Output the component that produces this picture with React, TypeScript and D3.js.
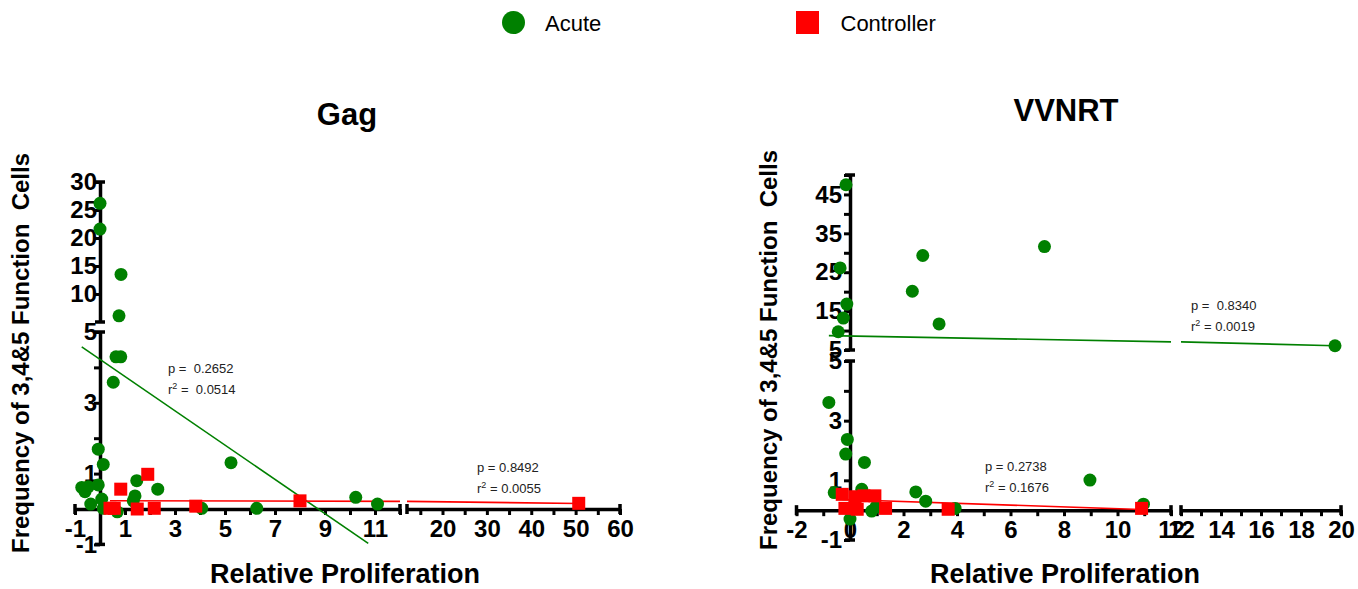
import React, { useEffect, useRef } from 'react';
import * as d3 from 'd3';

const FONT = "'Liberation Sans', Arial, sans-serif";
const ACUTE = '#008000';
const CONTROLLER = '#ff0000';

// Gag panel
const gagAcuteX = [0, 0, 0.84, 0.76, 0.64, 0.83, 0.53, -0.07, 0.13, -0.73, -0.6, -0.47, -0.07, -0.37, 0.07, 0.13, 0.69, 1.47, 1.4, 1.33, 2.31, 5.24, 4.07, 6.27, 10.23, 11.1];
const gagAcuteY = [26.2, 21.6, 13.5, 6.1, 4.3, 4.3, 3.58, 1.69, 1.26, 0.61, 0.49, 0.63, 0.68, 0.14, 0.28, 0.02, -0.08, 0.8, 0.37, 0.23, 0.56, 1.31, 0.02, 0.02, 0.33, 0.14];
const gagControllerX = [0.4, 0.57, 0.83, 1.49, 1.91, 2.17, 3.83, 8.0, 50.7];
const gagControllerY = [0.02, 0.02, 0.56, 0, 0.98, 0.02, 0.08, 0.23, 0.16];
const gagAcuteFit = [[-0.73, 4.58], [10.73, -0.97]];
const gagControllerFit = [[0.4, 0.235], [50.7, 0.155]];
const gagAcuteStats = ['p =  0.2652', ' =  0.0514'];
const gagControllerStats = ['p = 0.8492', ' = 0.0055'];

// VVNRT panel
const vvnrtAcuteX = [-0.15, -0.37, -0.12, -0.25, -0.44, 2.72, 2.33, 3.33, 7.27, 19.7, -0.79, -0.1, -0.16, 0.54, -0.59, 0.44, 0, 0.81, 0.97, 2.46, 2.83, 3.93, 8.97, 10.97];
const vvnrtAcuteY = [47.5, 26.1, 16.8, 13.2, 9.7, 29.3, 20.1, 11.7, 31.6, 6.1, 3.61, 2.37, 1.88, 1.6, 0.59, 0.7, -0.3, -0.03, 0.11, 0.61, 0.3, 0.06, 1.01, 0.2];
const vvnrtControllerX = [-0.29, -0.19, 0.19, 0.52, 0.27, 0.93, 1.33, 3.67, 10.9];
const vvnrtControllerY = [0.53, 0.06, 0.45, 0.48, 0.03, 0.48, 0.06, 0.03, 0.06];
const vvnrtAcuteFit = [[-0.79, 8.7], [19.7, 6.1]];
const vvnrtControllerFit = [[-0.29, 0.36], [10.9, 0.02]];
const vvnrtAcuteStats = ['p =  0.8340', ' = 0.0019'];
const vvnrtControllerStats = ['p = 0.2738', ' = 0.1676'];

const yTitle = 'Frequency of 3,4&5 Function  Cells';
const xTitle = 'Relative Proliferation';

const range = (a, b, step = 1) => d3.range(a, b + step / 2, step);

const panels = [
  {
    title: 'Gag', titleX: 347, titleY: 125,
    yTitleX: 29, yTitleY: 353, xTitleX: 345,
    labelPad: -3,
    xSegs: [
      { domain: [-1, 12], range: [75, 400], ticks: range(-1, 12), labels: range(-1, 11, 2) },
      { domain: [12, 60], range: [407, 620], ticks: range(15, 60, 5), labels: range(20, 60, 10) },
    ],
    ySegs: [
      { domain: [-1, 5], range: [544.4, 332], ticks: range(-1, 5), labels: [-1, 1, 3, 5] },
      { domain: [5, 30], range: [322, 182], ticks: range(10, 30, 5), labels: range(10, 30, 5) },
    ],
    acute: { x: gagAcuteX, y: gagAcuteY, fit: gagAcuteFit },
    controller: { x: gagControllerX, y: gagControllerY, fit: gagControllerFit },
    stats: [
      { text: gagAcuteStats, x: 168, y: 373 },
      { text: gagControllerStats, x: 477, y: 472 },
    ],
  },
  {
    title: 'VVNRT', titleX: 1066, titleY: 121,
    yTitleX: 777, yTitleY: 350, xTitleX: 1065,
    labelPad: 2,
    xSegs: [
      { domain: [-2, 12], range: [796.5, 1171], ticks: range(-2, 12), labels: range(-2, 12, 2) },
      { domain: [12, 20], range: [1181, 1341], ticks: range(12, 20), labels: range(12, 20, 2) },
    ],
    ySegs: [
      { domain: [-1, 5], range: [540, 361], ticks: range(-1, 5), labels: [-1, 1, 3, 5] },
      { domain: [5, 50], range: [350, 175], ticks: range(5, 50, 5), labels: range(5, 45, 10) },
    ],
    acute: { x: vvnrtAcuteX, y: vvnrtAcuteY, fit: vvnrtAcuteFit },
    controller: { x: vvnrtControllerX, y: vvnrtControllerY, fit: vvnrtControllerFit },
    stats: [
      { text: vvnrtAcuteStats, x: 1191, y: 310 },
      { text: vvnrtControllerStats, x: 985, y: 471 },
    ],
  },
];

const styleAxis = (ax) => {
  ax.select('.domain').attr('stroke', '#000').attr('stroke-width', 3.5);
  ax.selectAll('.tick line').attr('stroke', '#000').attr('stroke-width', 3);
  ax.selectAll('text')
    .attr('font-size', 24).attr('font-weight', 'bold')
    .attr('font-family', FONT).attr('fill', '#000');
};

const drawPanel = (svg, p) => {
  const g = svg.append('g');
  const xs = p.xSegs.map(s => ({ ...s, scale: d3.scaleLinear().domain(s.domain).range(s.range) }));
  const ys = p.ySegs.map(s => ({ ...s, scale: d3.scaleLinear().domain(s.domain).range(s.range) }));
  const xSeg = v => xs.find(s => v <= s.domain[1]) ?? xs[xs.length - 1];
  const ySeg = v => (v > 5 ? ys[1] : ys[0]);
  const axisY = ys[0].scale(0);
  const axisX = xs[0].scale(0);
  const fmt = labels => d => (labels.includes(d) ? String(d) : '');

  // x axis, broken
  xs.forEach(s => {
    const ax = g.append('g').attr('transform', `translate(0,${axisY})`)
      .call(d3.axisBottom(s.scale).tickValues(s.ticks).tickFormat(fmt(s.labels))
        .tickSize(6).tickSizeOuter(0).tickPadding(5));
    styleAxis(ax);
    s.range.forEach(r => g.append('line')
      .attr('x1', r).attr('x2', r).attr('y1', axisY - 5).attr('y2', axisY + 5)
      .attr('stroke', '#000').attr('stroke-width', 3.5));
  });

  // y axis, broken
  ys.forEach(s => {
    const ax = g.append('g').attr('transform', `translate(${axisX},0)`)
      .call(d3.axisLeft(s.scale).tickValues(s.ticks).tickFormat(fmt(s.labels))
        .tickSize(6).tickSizeOuter(0).tickPadding(p.labelPad));
    styleAxis(ax);
    s.range.forEach(r => g.append('line')
      .attr('x1', axisX - 5).attr('x2', axisX + 5).attr('y1', r).attr('y2', r)
      .attr('stroke', '#000').attr('stroke-width', 3.5));
  });

  // regression lines, split at the x break
  const drawFit = (fit, color) => {
    const [[x1, y1], [x2, y2]] = fit;
    const yScale = ySeg((y1 + y2) / 2).scale;
    const f = x => y1 + (y2 - y1) * (x - x1) / (x2 - x1);
    xs.forEach(s => {
      const a = Math.max(x1, s.domain[0]);
      const b = Math.min(x2, s.domain[1]);
      if (a >= b) return;
      g.append('path')
        .datum([a, b])
        .attr('d', d3.line().x(d => s.scale(d)).y(d => yScale(f(d))))
        .attr('fill', 'none').attr('stroke', color).attr('stroke-width', 1.6);
    });
  };
  drawFit(p.acute.fit, ACUTE);
  drawFit(p.controller.fit, CONTROLLER);

  const px = v => xSeg(v).scale(v);
  const py = v => ySeg(v).scale(v);

  g.selectAll('circle.acute').data(p.acute.x.map((x, i) => [x, p.acute.y[i]])).enter()
    .append('circle').attr('class', 'acute')
    .attr('cx', d => px(d[0])).attr('cy', d => py(d[1])).attr('r', 6.5)
    .attr('fill', ACUTE);

  g.selectAll('rect.ctrl').data(p.controller.x.map((x, i) => [x, p.controller.y[i]])).enter()
    .append('rect').attr('class', 'ctrl')
    .attr('x', d => px(d[0]) - 6.5).attr('y', d => py(d[1]) - 6.5)
    .attr('width', 13).attr('height', 13)
    .attr('fill', CONTROLLER);

  // p / r² annotations
  p.stats.forEach(st => {
    g.append('text').attr('x', st.x).attr('y', st.y)
      .attr('font-size', 13).attr('font-family', FONT).attr('fill', '#222')
      .style('white-space', 'pre').text(st.text[0]);
    const t = g.append('text').attr('x', st.x).attr('y', st.y + 21)
      .attr('font-size', 13).attr('font-family', FONT).attr('fill', '#222')
      .style('white-space', 'pre');
    t.append('tspan').text('r');
    t.append('tspan').attr('dy', -5).attr('font-size', 9).text('2');
    t.append('tspan').attr('dy', 5).text(st.text[1]);
  });

  // titles
  g.append('text').attr('x', p.titleX).attr('y', p.titleY)
    .attr('text-anchor', 'middle').attr('font-size', 31).attr('font-weight', 'bold')
    .attr('font-family', FONT).text(p.title);
  g.append('text').attr('transform', `translate(${p.yTitleX},${p.yTitleY}) rotate(-90)`)
    .attr('text-anchor', 'middle').attr('font-size', 24).attr('font-weight', 'bold')
    .attr('font-family', FONT).style('white-space', 'pre').text(yTitle);
  g.append('text').attr('x', p.xTitleX).attr('y', 583)
    .attr('text-anchor', 'middle').attr('font-size', 27).attr('font-weight', 'bold')
    .attr('font-family', FONT).text(xTitle);
};

const App = () => {
  const ref = useRef(null);

  useEffect(() => {
    const svg = d3.select(ref.current);
    svg.selectAll('*').remove();

    // legend
    const legend = svg.append('g').attr('font-family', FONT).attr('font-size', 22);
    legend.append('circle').attr('cx', 513.5).attr('cy', 22.5).attr('r', 11.5).attr('fill', ACUTE);
    legend.append('text').attr('x', 545).attr('y', 30.5).text('Acute');
    legend.append('rect').attr('x', 796).attr('y', 11).attr('width', 23).attr('height', 23).attr('fill', CONTROLLER);
    legend.append('text').attr('x', 840.5).attr('y', 30.5).text('Controller');

    panels.forEach(p => drawPanel(svg, p));
  }, []);

  return (
    <svg ref={ref} width={1358} height={589}
      style={{ position: 'absolute', left: 0, top: 0, background: '#fff' }} />
  );
};

export default App;
